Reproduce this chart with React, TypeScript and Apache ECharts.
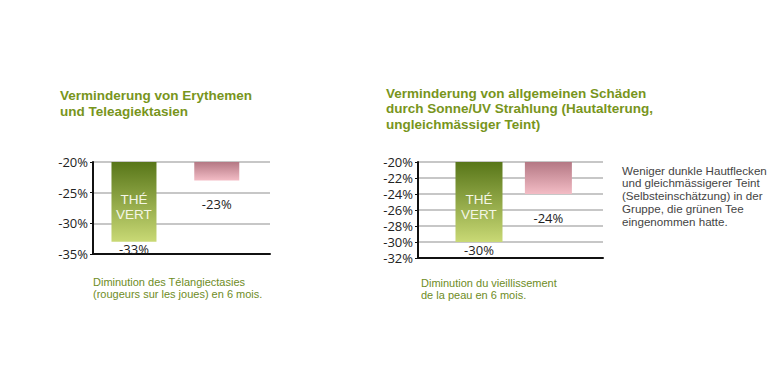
import React, { useEffect, useRef } from "react";
import * as echarts from "echarts";

// ---- data ----
const categories = ["Thé vert", "Placebo"];
const chart1Values = [-33, -23];
const chart2Values = [-30, -24];
const chart1Axis = { min: -35, max: -20, interval: 5 };
const chart2Axis = { min: -32, max: -20, interval: 2 };
const barInsideLabel = ["THÉ", "VERT"];

const chart1Title = ["Verminderung von Erythemen", "und Teleagiektasien"];
const chart2Title = [
  "Verminderung von allgemeinen Schäden",
  "durch Sonne/UV Strahlung (Hautalterung,",
  "ungleichmässiger Teint)",
];
const chart1Caption = ["Diminution des Télangiectasies", "(rougeurs sur les joues) en 6 mois."];
const chart2Caption = ["Diminution du vieillissement", "de la peau en 6 mois."];
const sideNote = [
  "Weniger dunkle Hautflecken",
  "und gleichmässigerer Teint",
  "(Selbsteinschätzung) in der",
  "Gruppe, die grünen Tee",
  "eingenommen hatte.",
];

const FONT = '"Open Sans", "Noto Sans", sans-serif';
const TIGHT = '"Liberation Sans", Arial, sans-serif';
const TITLE_COLOR = "#78951c";
const CAPTION_COLOR = "#6e8c1e";

const greenGrad = () =>
  new echarts.graphic.LinearGradient(0, 0, 0, 1, [
    { offset: 0, color: "#587619" },
    { offset: 1, color: "#c9d975" },
  ]);
const pinkGrad = () =>
  new echarts.graphic.LinearGradient(0, 0, 0, 1, [
    { offset: 0, color: "#b47884" },
    { offset: 1, color: "#f3bcc5" },
  ]);

function makeSeries(gridIndex: number, values: number[], base: number, barW: number) {
  return {
    type: "custom",
    name: categories.join("/"),
    xAxisIndex: gridIndex,
    yAxisIndex: gridIndex,
    data: values.map((v, i) => [i, v]),
    renderItem: (params: any, api: any) => {
      const idx = api.value(0);
      const v = api.value(1);
      const top = api.coord([idx, base]);
      const bot = api.coord([idx, v]);
      const isGreen = params.dataIndex === 0;
      const children: any[] = [
        {
          type: "rect",
          shape: { x: top[0] - barW / 2, y: top[1], width: barW, height: bot[1] - top[1] },
          style: { fill: isGreen ? greenGrad() : pinkGrad() },
        },
        {
          type: "text",
          style: {
            text: v + "%",
            x: bot[0],
            y: bot[1] + (isGreen ? 7.5 : 24),
            align: "center",
            verticalAlign: "middle",
            fill: "#222",
            font: `13px ${FONT}`,
          },
        },
      ];
      if (isGreen) {
        const mid = (top[1] + bot[1]) / 2 + 5;
        barInsideLabel.forEach((t, k) => {
          children.push({
            type: "text",
            style: {
              text: t,
              x: top[0],
              y: mid + (k - (barInsideLabel.length - 1) / 2) * 15,
              align: "center",
              verticalAlign: "middle",
              fill: "#f4f6e6",
              font: `13.5px ${TIGHT}`,
            },
          });
        });
      }
      return { type: "group", children };
    },
  };
}

function yAxisCfg(gridIndex: number, ax: { min: number; max: number; interval: number }) {
  return {
    type: "value",
    gridIndex,
    min: ax.min,
    max: ax.max,
    interval: ax.interval,
    position: "left",
    axisLine: { show: true, onZero: false, lineStyle: { color: "#111", width: 2 } },
    axisTick: { show: true, length: 3, lineStyle: { color: "#111", width: 1 } },
    axisLabel: {
      formatter: "{value}%",
      color: "#222",
      fontSize: 13,
      fontFamily: FONT,
      margin: 5,
    },
    splitLine: { show: true, lineStyle: { color: "#b5b5b5", width: 1.5 } },
  };
}

function xAxisCfg(gridIndex: number, min: number, max: number) {
  return {
    type: "value",
    gridIndex,
    min,
    max,
    position: "bottom",
    axisLine: { show: true, onZero: false, lineStyle: { color: "#111", width: 2 } },
    axisTick: { show: false },
    axisLabel: { show: false },
    splitLine: { show: false },
  };
}

function lines(
  texts: string[],
  left: number,
  top: number,
  lh: number,
  font: string,
  fill: string
) {
  return texts.map((t, i) => ({
    type: "text",
    left,
    top: top + i * lh,
    style: { text: t, font, fill },
  }));
}

export default function App() {
  const ref = useRef<HTMLDivElement>(null);
  useEffect(() => {
    document.body.style.margin = "0";
    const chart = echarts.init(ref.current!, null, { renderer: "svg" });
    chart.setOption({
      animation: false,
      backgroundColor: "#fff",
      grid: [
        { left: 93, top: 162, width: 177, height: 92 },
        { left: 418, top: 162, width: 185, height: 96 },
      ],
      xAxis: [xAxisCfg(0, -0.495, 1.643), xAxisCfg(1, -0.879, 1.787)],
      yAxis: [yAxisCfg(0, chart1Axis), yAxisCfg(1, chart2Axis)],
      series: [
        makeSeries(0, chart1Values, chart1Axis.max, 45),
        makeSeries(1, chart2Values, chart2Axis.max, 47),
      ],
      graphic: [
        ...lines(chart1Title, 60, 88, 16, `bold 13.5px ${TIGHT}`, TITLE_COLOR),
        ...lines(chart2Title, 386, 86, 15.5, `bold 13.5px ${TIGHT}`, TITLE_COLOR),
        ...lines(chart1Caption, 93, 276, 12, `11px ${TIGHT}`, CAPTION_COLOR),
        ...lines(chart2Caption, 421, 277, 12, `11px ${TIGHT}`, CAPTION_COLOR),
        ...lines(sideNote, 622, 164, 12.8, `11.6px ${TIGHT}`, "#444"),
      ],
    });
    return () => chart.dispose();
  }, []);
  return <div ref={ref} style={{ width: 774, height: 377 }} />;
}
